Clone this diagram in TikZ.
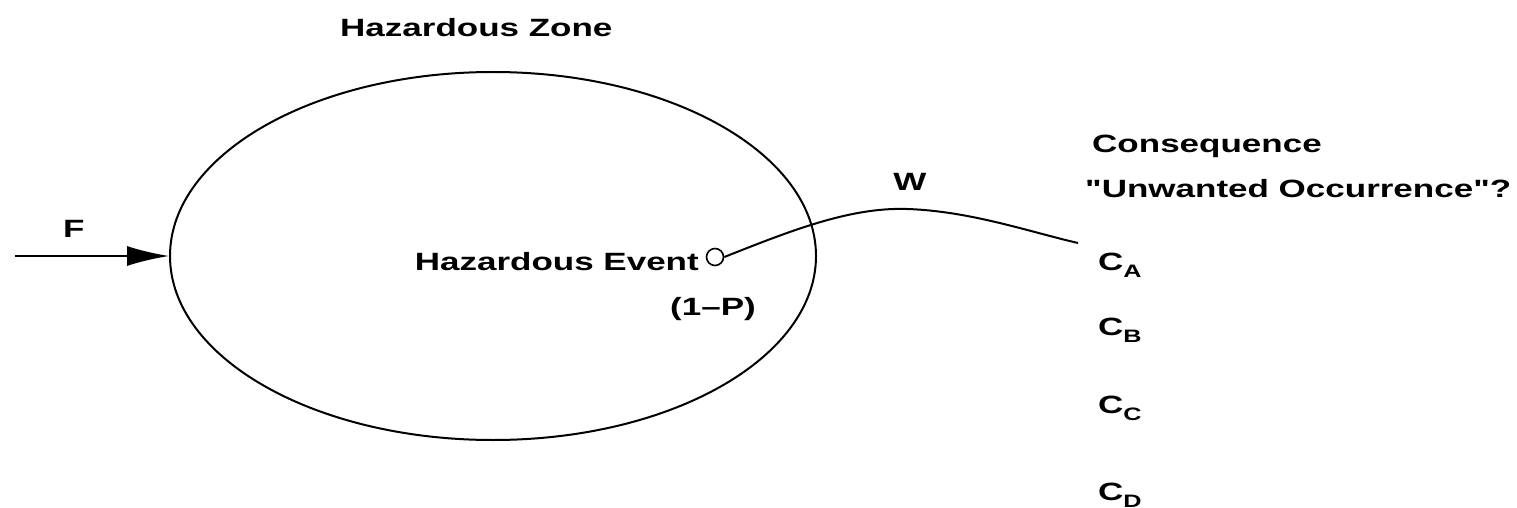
\documentclass[tikz,border=0pt]{standalone}
\usepackage{fontspec}
\setmainfont[FakeStretch=1.4, Ligatures=TeXOff]{Liberation Sans}
\usetikzlibrary{shapes.geometric,arrows.meta}
\newcommand\csub[1]{\raisebox{-7pt}{\fontsize{18}{20}\selectfont #1}}
\tikzset{
  lbl/.style={font=\fontsize{25}{30}\selectfont\bfseries, inner sep=0pt},
  ln/.style={line width=2pt},
}
\begin{document}
\begin{tikzpicture}[x=1pt,y=-1pt]
\useasboundingbox[fill=white] (0,0) rectangle (1517,508);
\node[ln, draw, ellipse, minimum width=646pt, minimum height=368pt, inner sep=0pt] (zone) at (493,256) {};
\node[lbl, anchor=base west] (zlabel) at (340,37) {Hazardous Zone};
\coordinate (fstart) at (15,256);
\draw[line width=1.6pt, -{Latex[length=42pt,width=20pt]}] (fstart) -- (zone.west);
\node[lbl, anchor=base west] (flabel) at (63,237) {F};
\node[draw, circle, line width=1.6pt, minimum size=17pt, inner sep=0pt] (ev) at (715,257) {};
\node[lbl, anchor=base east] (evlabel) at (699,270) {Hazardous Event};
\node[lbl, anchor=base west] (plabel) at (670,315) {(1–P)};
\coordinate (cend) at (1078,243);
\draw[ln] (ev.east) .. controls (790,231) and (850,207) .. (907,209) .. controls (970,211) and (1030,232) .. (cend);
\node[lbl, anchor=base] (wlabel) at (910,190) {W};
\node[lbl, anchor=base west] (cons) at (1092,152) {Consequence};
\node[lbl, anchor=base west] (unw) at (1085,197) {"Unwanted Occurrence"?};
\node[lbl, anchor=base west] (ca) at (1098,270) {C\csub{A}};
\node[lbl, anchor=base west] (cb) at (1098,335) {C\csub{B}};
\node[lbl, anchor=base west] (cc) at (1098,413) {C\csub{C}};
\node[lbl, anchor=base west] (cd) at (1098,500) {C\csub{D}};
\end{tikzpicture}
\end{document}
